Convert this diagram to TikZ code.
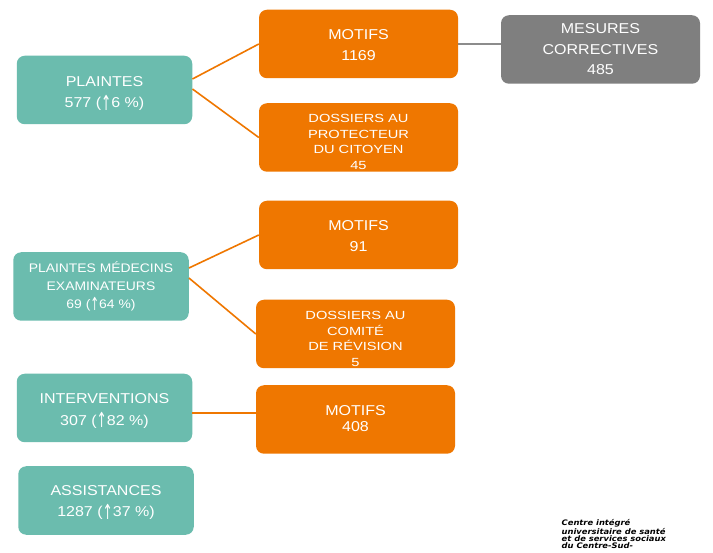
\documentclass[tikz,border=0pt]{standalone}
\usepackage{fontspec}
\usepackage{graphicx}
\setmainfont{Liberation Sans}[FakeStretch=1.12]
\newfontfamily\widefont{Liberation Sans}[FakeStretch=1.24]
\newfontfamily\arrowfont{DejaVu Sans}
\newfontfamily\logofont{DejaVu Sans}[FakeStretch=1.1,BoldItalicFont={DejaVu Sans Bold Oblique}]
\newcommand{\uparr}{\raisebox{-0.16em}{\scalebox{0.85}[1.45]{\arrowfont ↑}}}
\definecolor{tealbox}{HTML}{6BBCAE}
\definecolor{orangebox}{HTML}{EF7700}
\definecolor{greybox}{HTML}{7F7F7F}
\definecolor{greyline}{HTML}{8C8C8C}
\begin{document}
\begin{tikzpicture}[x=1pt,y=-1pt,
  box/.style={rounded corners=8pt, inner sep=0pt,
    minimum width=199pt, minimum height=68.5pt},
  tealnode/.style={box, fill=tealbox, minimum width=175.5pt},
  orangenode/.style={box, fill=orangebox},
  greynode/.style={box, fill=greybox},
  txt/.style={text=white, inner sep=0pt, align=center},
  mainfont/.style={txt, font=\fontsize{14.3}{21.5}\selectfont},
  smallfont/.style={txt, font=\fontsize{12.4}{18}\selectfont},
  widesmall/.style={txt, font=\widefont\fontsize{11.8}{15.7}\selectfont},
  olink/.style={draw=orangebox, line width=1.6pt},
  glink/.style={draw=greyline, line width=1.8pt}]
\useasboundingbox[fill=white] (0,0) rectangle (713,553);

% boxes
\node[tealnode] (plaintes) at (104.5,90) {};
\node[tealnode] (medecins) at (101,286.5) {};
\node[tealnode] (interv) at (104.5,408) {};
\node[tealnode] (assist) at (106,500.5) {};
\node[orangenode] (motifsA) at (358.5,44) {};
\node[orangenode] (dossPC) at (358.5,137.5) {};
\node[orangenode] (motifsB) at (358.5,235) {};
\node[orangenode] (dossCR) at (355.5,334) {};
\node[orangenode] (motifsC) at (355.5,419.5) {};
\node[greynode] (mesures) at (600.5,49.5) {};

% texts
\node[mainfont] (plaintes-t) at ([yshift=-3.5pt]plaintes.center) {PLAINTES\\577 (\uparr6 \%)};
\node[smallfont] (medecins-t) at (medecins.center) {PLAINTES MÉDECINS\\EXAMINATEURS\\69 (\uparr64 \%)};
\node[mainfont] (interv-t) at ([yshift=-3pt]interv.center) {INTERVENTIONS\\307 (\uparr82 \%)};
\node[mainfont] (assist-t) at ([yshift=-2pt]assist.center) {ASSISTANCES\\1287 (\uparr37 \%)};
\node[mainfont] (motifsA-t) at ([yshift=-1pt]motifsA.center) {MOTIFS\\1169};
\node[widesmall] (dossPC-t) at ([yshift=-4.5pt]dossPC.center) {DOSSIERS AU\\PROTECTEUR\\DU CITOYEN\\45};
\node[mainfont] (motifsB-t) at ([yshift=-1pt]motifsB.center) {MOTIFS\\91};
\node[widesmall] (dossCR-t) at ([yshift=-5pt]dossCR.center) {DOSSIERS AU\\COMITÉ\\DE RÉVISION\\5};
\node[txt, font=\fontsize{14.3}{16.7}\selectfont] (motifsC-t) at ([yshift=1pt]motifsC.center) {MOTIFS\\408};
\node[txt, font=\fontsize{14.3}{20.5}\selectfont] (mesures-t) at (mesures.center) {MESURES\\CORRECTIVES\\485};

% connectors
\draw[olink] ([yshift=11pt]plaintes.east) -- (motifsA.west);
\draw[olink] ([yshift=1pt]plaintes.east) -- (dossPC.west);
\draw[glink] (motifsA.east) -- (motifsA.east -| mesures.west);
\draw[olink] ([yshift=18.5pt]medecins.east) -- (motifsB.west);
\draw[olink] ([yshift=8.5pt]medecins.east) -- (dossCR.west);
\draw[olink] ([yshift=-5pt]interv.east) -- ([yshift=-5pt]interv.east -| motifsC.west);

% logo text
\node[anchor=north west, align=left, inner sep=0pt,
  font=\logofont\bfseries\itshape\fontsize{7.6}{7.2}\selectfont] (logo) at (561.5,519.5)
  {Centre intégré\\universitaire de santé\\et de services sociaux\\du Centre-Sud-};
\end{tikzpicture}
\end{document}
